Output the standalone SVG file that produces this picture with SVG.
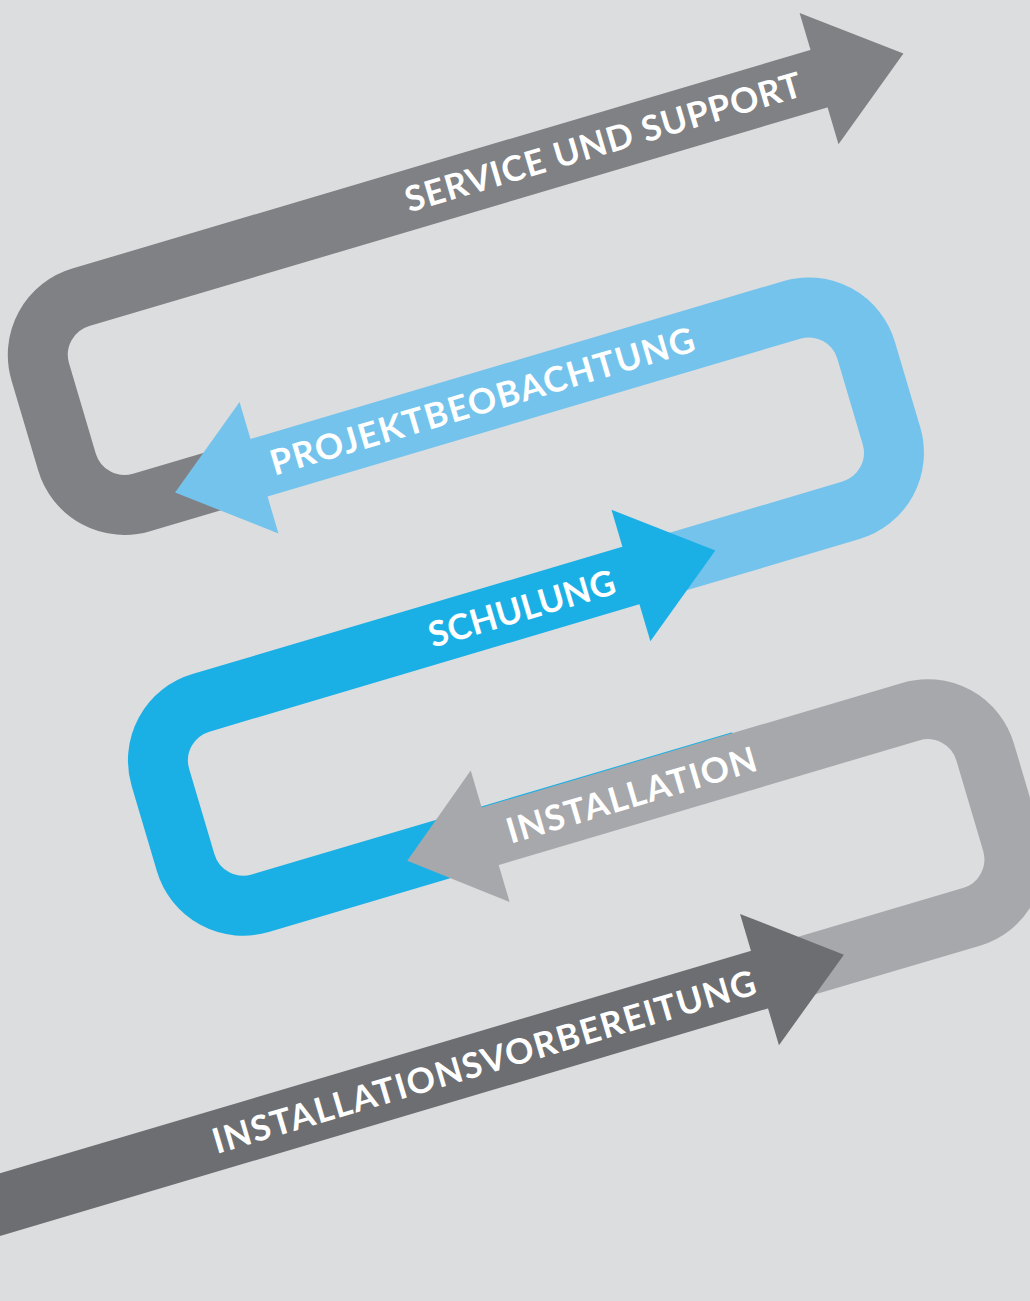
<svg xmlns="http://www.w3.org/2000/svg" width="1030" height="1301" viewBox="0 0 1030 1301">
<style>
.band{fill:none;stroke-width:60;stroke-linecap:butt;stroke-linejoin:round}
.lbl{font-family:Lato,"Open Sans","Liberation Sans",sans-serif;font-weight:700;font-size:35px;fill:#ffffff}
</style>
<rect x="0" y="0" width="1030" height="1301" fill="#dcdddf"/>
<g transform="rotate(-16.5)">
  <g id="service">
    <path class="band" stroke="#808184" d="M 775 308 H -7 A 60 60 0 0 0 -67 368 V 462 A 60 60 0 0 0 -7 522 H 90"/>
    <polygon fill="#808184" points="763,239.5 851,308 763,376.5"/>
    <text class="lbl" x="332" y="320" textLength="412" lengthAdjust="spacing">SERVICE UND SUPPORT</text>
  </g>
  <g id="projektbeobachtung">
    <path class="band" stroke="#74c3ec" d="M 105 522 H 671 A 60 60 0 0 1 731 582 V 671 A 60 60 0 0 1 671 731 H 480"/>
    <polygon fill="#74c3ec" points="115.5,453.5 28,522 115.5,590.5"/>
    <text class="lbl" x="128" y="534" textLength="441" lengthAdjust="spacing">PROJEKTBEOBACHTUNG</text>
  </g>
  <g id="schulung">
    <path class="band" stroke="#1bb0e5" d="M 451 731 H -7 A 60 60 0 0 0 -67 791 V 880 A 60 60 0 0 0 -7 940 H 494"/>
    <polygon fill="#1bb0e5" points="441.5,662.5 529.5,731 441.5,799.5"/>
    <text class="lbl" x="231" y="744" textLength="193" lengthAdjust="spacing">SCHULUNG</text>
  </g>
  <g id="installation">
    <path class="band" stroke="#a7a8ab" d="M 222 941 H 671 A 60 60 0 0 1 731 1001 V 1095 A 60 60 0 0 1 671 1155 H 480"/>
    <polygon fill="#a7a8ab" points="232.5,872.5 146,941 232.5,1009.5"/>
    <text class="lbl" x="250" y="954" textLength="259" lengthAdjust="spacing">INSTALLATION</text>
  </g>
  <g id="installationsvorbereitung">
    <path class="band" stroke="#6d6e71" d="M -450 1155 H 460"/>
    <polygon fill="#6d6e71" points="450,1086.5 538,1155 450,1223.5"/>
    <text class="lbl" x="-120" y="1168" textLength="565" lengthAdjust="spacing">INSTALLATIONSVORBEREITUNG</text>
  </g>
</g>
<g id="connectors"/>
</svg>
